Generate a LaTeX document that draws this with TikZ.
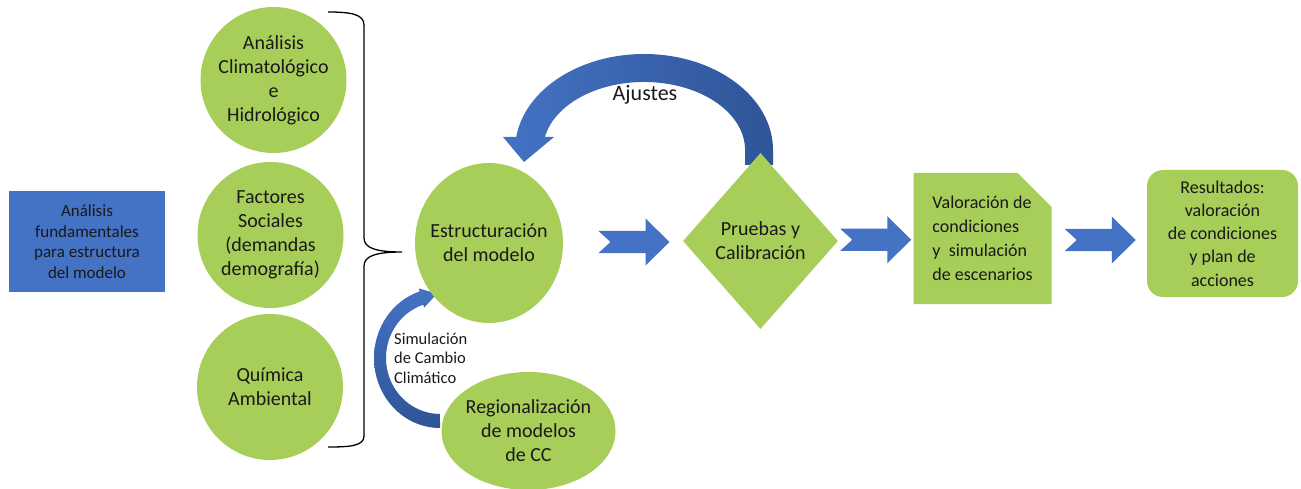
\documentclass[tikz,border=0pt]{standalone}
\usepackage{fontspec}
\setmainfont{Carlito}
\definecolor{leafgreen}{RGB}{168,206,90}
\definecolor{arrowblue}{RGB}{68,114,196}
\definecolor{arrowdark}{RGB}{47,85,151}
\definecolor{inkgray}{RGB}{25,25,25}
\usetikzlibrary{shapes.geometric,shapes.misc,calc}

\tikzset{flowarrow/.pic={
    \fill[arrowblue] (-35.5,-11) -- (11.5,-11) -- (11.5,-23.5) -- (35.5,0)
        -- (11.5,23.5) -- (11.5,11) -- (-35.5,11) -- (-23.5,0) -- cycle;}}

\begin{document}
\begin{tikzpicture}[x=1pt,y=-1pt,
    every node/.style={inner sep=0pt,align=center,text=inkgray},
    gcircle/.style={circle,fill=leafgreen,minimum size=146pt,font=\fontsize{20}{24}\selectfont},
    gellipse/.style={ellipse,fill=leafgreen,inner xsep=-14pt,font=\fontsize{20}{24}\selectfont},
    bluebox/.style={rectangle,fill=arrowblue,minimum width=156pt,minimum height=101pt,font=\fontsize{17}{20.5}\selectfont},
    gdiamond/.style={diamond,fill=leafgreen,minimum width=155pt,minimum height=176pt,font=\fontsize{20}{24}\selectfont},
    snipbox/.style={chamfered rectangle,chamfered rectangle corners=north east,
        chamfered rectangle xsep=14pt,chamfered rectangle ysep=20pt,fill=leafgreen,
        minimum width=138pt,minimum height=131pt,align=left,font=\fontsize{18}{24}\selectfont},
    roundbox/.style={rectangle,rounded corners=16pt,fill=leafgreen,minimum width=151pt,
        minimum height=127pt,font=\fontsize{18}{23.3}\selectfont},
    brace/.style={line width=1.3pt,black}
    ]
    \useasboundingbox (0,0) rectangle (1301,489);

    % curved arrows behind the shapes
    \shade[left color=arrowblue,right color=arrowdark]
        (773,165) -- (773,150) arc[start angle=0,end angle=172.2,x radius=129pt,y radius=96pt]
        -- (503,137) -- (524,162) -- (554,137) -- (544.9,137)
        arc[start angle=169,end angle=0,x radius=101pt,y radius=68pt] -- (745,165) -- cycle;
    \shade[top color=arrowblue,bottom color=arrowdark]
        (440,428) arc[start angle=270,end angle=108,x radius=66pt,y radius=70pt]
        -- (418.8,288.4) -- (437,293.7) -- (424.2,307.6) -- (423.3,304.7)
        arc[start angle=108,end angle=270,x radius=54pt,y radius=56pt] -- cycle;

    % left column
    \node[bluebox] (fundamentos) at (87,241.5) {Análisis\\fundamentales\\para estructura\\del modelo};
    \node[gcircle] (analisis) at (273.5,80) {Análisis\\Climatológico\\e\\Hidrológico};
    \node[gcircle] (factores) at (270.5,235) {Factores\\Sociales\\(demandas\\demografía)};
    \node[gcircle] (quimica) at (270,387) {Química\\Ambiental};

    % the brace
    \draw[brace] (328,12) .. controls (350,12) and (364,14) .. (364,25) -- (364,238)
        .. controls (364,248) and (376,252) .. (402,252)
        .. controls (376,252) and (364,256) .. (364,266) -- (364,436)
        .. controls (364,446) and (350,447) .. (328,447);

    % model chain
    \node[gellipse,minimum width=148pt,minimum height=160pt] (estructura) at (489,243) {Estructuración\\del modelo};
    \node[gellipse,minimum width=174pt,minimum height=118pt] (regional) at (528.5,431) {Regionalización\\de modelos\\de CC};
    \node[gdiamond] (pruebas) at (760.5,241) {Pruebas y\\Calibración};
    \node[snipbox] (valoracion) at (982.5,238.5) {Valoración de\\condiciones\\y\ \ simulación\\de escenarios};
    \node[roundbox] (resultados) at (1222.5,233.5) {Resultados:\\valoración\\de condiciones\\y plan de\\acciones};

    % labels of the curved arrows
    \node[font=\fontsize{22}{26}\selectfont] (ajustes) at (645,95) {Ajustes};
    \node[anchor=west,align=left,font=\fontsize{16.5}{19.5}\selectfont] (simulacion) at (394,358)
        {Simulación\\de Cambio\\Climático};

    % block arrows
    \pic at ($(estructura.east)!.5!(pruebas.west)+(11,0)$) {flowarrow};
    \pic at ($(pruebas.east)!.5!(valoracion.west)$) {flowarrow};
    \pic at ($(valoracion.east)!.5!(resultados.west)+(1,4)$) {flowarrow};
\end{tikzpicture}
\end{document}
